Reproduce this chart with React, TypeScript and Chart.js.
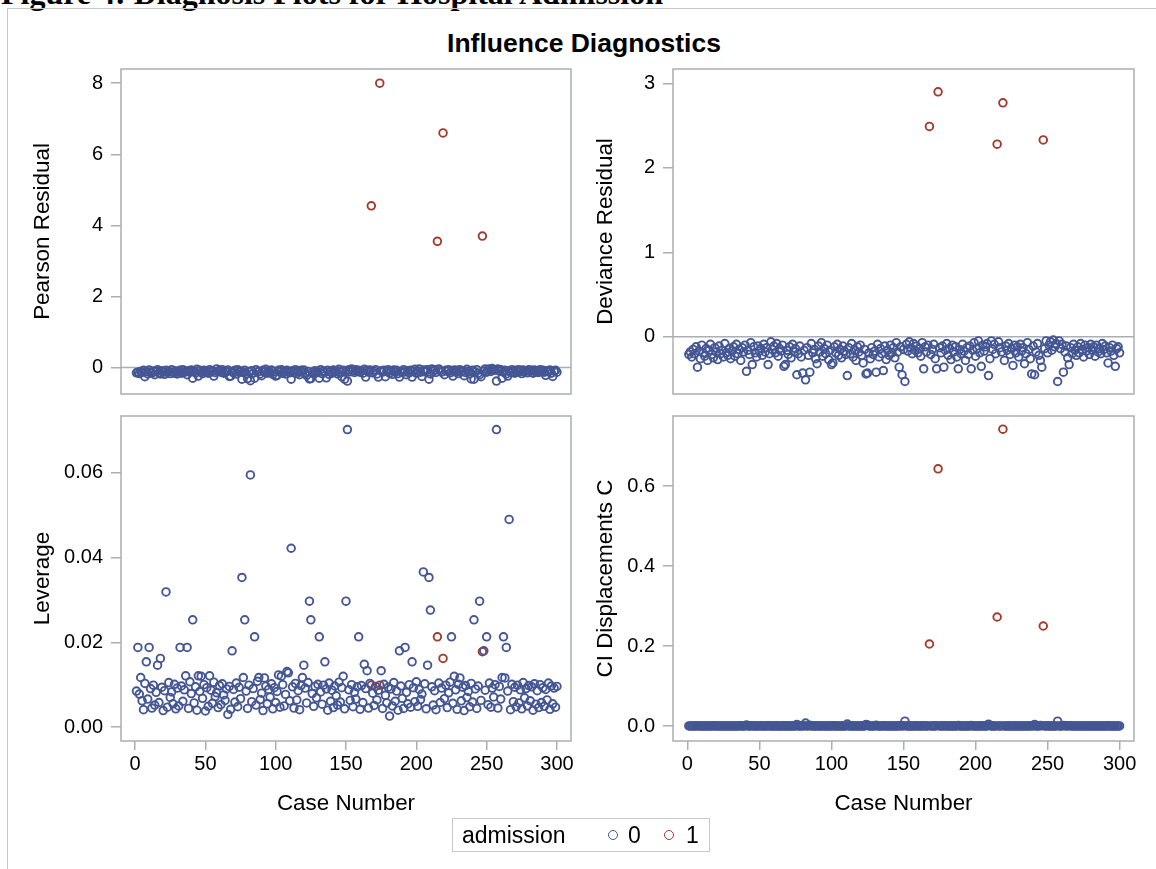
import React, { useEffect, useRef } from 'react';
import { Chart, registerables } from 'chart.js';

Chart.register(...registerables);

// ---------------- data (case numbers 1..300) ----------------
const admittedCases = [168, 174, 215, 219, 247]; // admission = 1

const pearsonResidual = [
  -0.15, -0.13, -0.17, -0.11, -0.14, -0.08, -0.26, -0.12, -0.18, -0.07,
  -0.13, -0.16, -0.10, -0.20, -0.11, -0.06, -0.15, -0.18, -0.09, -0.13,
  -0.19, -0.08, -0.14, -0.11, -0.17, -0.06, -0.13, -0.16, -0.10, -0.18,
  -0.12, -0.08, -0.16, -0.06, -0.14, -0.11, -0.20, -0.09, -0.13, -0.07,
  -0.30, -0.11, -0.15, -0.05, -0.24, -0.08, -0.13, -0.17, -0.08, -0.12,
  -0.10, -0.16, -0.06, -0.13, -0.09, -0.24, -0.14, -0.04, -0.11, -0.08,
  -0.13, -0.06, -0.16, -0.10, -0.12, -0.07, -0.25, -0.24, -0.11, -0.15,
  -0.08, -0.18, -0.06, -0.13, -0.10, -0.33, -0.14, -0.08, -0.17, -0.31,
  -0.11, -0.37, -0.09, -0.16, -0.30, -0.06, -0.13, -0.11, -0.18, -0.23,
  -0.08, -0.13, -0.05, -0.16, -0.10, -0.14, -0.07, -0.19, -0.11, -0.24,
  -0.22, -0.08, -0.13, -0.06, -0.16, -0.11, -0.18, -0.08, -0.12, -0.15,
  -0.33, -0.09, -0.14, -0.06, -0.17, -0.11, -0.20, -0.08, -0.13, -0.07,
  -0.16, -0.22, -0.11, -0.32, -0.31, -0.13, -0.18, -0.09, -0.15, -0.12,
  -0.30, -0.06, -0.17, -0.10, -0.14, -0.29, -0.08, -0.19, -0.11, -0.16,
  -0.07, -0.13, -0.09, -0.18, -0.05, -0.13, -0.26, -0.08, -0.33, -0.11,
  -0.38, -0.06, -0.12, -0.04, -0.09, -0.14, -0.06, -0.11, -0.08, -0.13,
  -0.10, -0.16, -0.05, -0.27, -0.08, -0.13, -0.07, 4.55, -0.15, -0.11,
  -0.06, -0.18, -0.27, 8.00, -0.09, -0.13, -0.08, -0.26, -0.11, -0.06,
  -0.16, -0.10, -0.19, -0.07, -0.13, -0.08, -0.17, -0.27, -0.11, -0.14,
  -0.06, -0.12, -0.20, -0.09, -0.15, -0.08, -0.27, -0.11, -0.05, -0.16,
  -0.10, -0.04, -0.13, -0.25, -0.07, -0.12, -0.08, -0.06, -0.33, -0.18,
  -0.04, -0.11, -0.06, -0.14, 3.55, -0.04, -0.09, -0.13, 6.60, -0.20,
  -0.08, -0.11, -0.06, -0.15, -0.10, -0.24, -0.07, -0.13, -0.08, -0.17,
  -0.06, -0.12, -0.09, -0.23, -0.14, -0.05, -0.11, -0.18, -0.32, -0.08,
  -0.33, -0.13, -0.06, -0.16, -0.20, -0.26, 3.70, -0.10, -0.04, -0.13,
  -0.07, -0.04, -0.11, -0.03, -0.08, -0.06, -0.38, -0.04, -0.10, -0.06,
  -0.30, -0.13, -0.08, -0.18, -0.24, -0.09, -0.14, -0.06, -0.11, -0.16,
  -0.08, -0.13, -0.06, -0.11, -0.17, -0.07, -0.12, -0.09, -0.15, -0.06,
  -0.11, -0.08, -0.16, -0.07, -0.13, -0.10, -0.14, -0.06, -0.11, -0.08,
  -0.13, -0.22, -0.09, -0.12, -0.07, -0.16, -0.25, -0.10, -0.08, -0.13,
];

const devianceResidual = [
  -0.21, -0.18, -0.24, -0.15, -0.20, -0.12, -0.36, -0.17, -0.26, -0.10,
  -0.19, -0.23, -0.14, -0.28, -0.16, -0.09, -0.21, -0.25, -0.13, -0.18,
  -0.27, -0.11, -0.20, -0.16, -0.24, -0.08, -0.19, -0.22, -0.14, -0.26,
  -0.17, -0.12, -0.23, -0.09, -0.20, -0.15, -0.28, -0.13, -0.18, -0.10,
  -0.41, -0.16, -0.21, -0.07, -0.33, -0.12, -0.19, -0.24, -0.11, -0.17,
  -0.14, -0.22, -0.09, -0.18, -0.13, -0.33, -0.20, -0.06, -0.15, -0.11,
  -0.19, -0.08, -0.23, -0.14, -0.17, -0.10, -0.35, -0.33, -0.16, -0.21,
  -0.12, -0.25, -0.09, -0.18, -0.14, -0.45, -0.20, -0.11, -0.24, -0.43,
  -0.16, -0.51, -0.13, -0.22, -0.42, -0.08, -0.19, -0.15, -0.26, -0.32,
  -0.11, -0.18, -0.07, -0.23, -0.14, -0.20, -0.10, -0.27, -0.16, -0.33,
  -0.31, -0.12, -0.19, -0.09, -0.22, -0.15, -0.25, -0.11, -0.17, -0.21,
  -0.46, -0.13, -0.20, -0.08, -0.24, -0.16, -0.28, -0.12, -0.18, -0.10,
  -0.22, -0.31, -0.15, -0.44, -0.43, -0.19, -0.26, -0.13, -0.21, -0.17,
  -0.42, -0.09, -0.24, -0.14, -0.20, -0.40, -0.11, -0.27, -0.16, -0.22,
  -0.10, -0.19, -0.13, -0.25, -0.07, -0.18, -0.36, -0.12, -0.45, -0.15,
  -0.53, -0.09, -0.17, -0.06, -0.13, -0.20, -0.08, -0.16, -0.11, -0.19,
  -0.14, -0.23, -0.07, -0.38, -0.12, -0.18, -0.10, 2.49, -0.21, -0.15,
  -0.09, -0.26, -0.38, 2.90, -0.13, -0.19, -0.11, -0.36, -0.16, -0.08,
  -0.22, -0.14, -0.27, -0.10, -0.18, -0.12, -0.24, -0.38, -0.15, -0.20,
  -0.09, -0.17, -0.28, -0.13, -0.21, -0.11, -0.38, -0.16, -0.07, -0.23,
  -0.14, -0.05, -0.19, -0.35, -0.10, -0.17, -0.12, -0.08, -0.46, -0.26,
  -0.05, -0.15, -0.09, -0.20, 2.28, -0.06, -0.13, -0.18, 2.77, -0.28,
  -0.11, -0.16, -0.08, -0.21, -0.14, -0.34, -0.10, -0.19, -0.12, -0.24,
  -0.09, -0.17, -0.13, -0.32, -0.20, -0.07, -0.15, -0.26, -0.44, -0.11,
  -0.45, -0.18, -0.08, -0.22, -0.28, -0.36, 2.33, -0.14, -0.05, -0.19,
  -0.10, -0.06, -0.16, -0.04, -0.12, -0.08, -0.53, -0.05, -0.14, -0.09,
  -0.42, -0.18, -0.11, -0.25, -0.33, -0.13, -0.20, -0.09, -0.16, -0.22,
  -0.12, -0.19, -0.08, -0.15, -0.24, -0.10, -0.17, -0.13, -0.21, -0.09,
  -0.16, -0.12, -0.23, -0.10, -0.18, -0.14, -0.20, -0.08, -0.15, -0.11,
  -0.19, -0.31, -0.13, -0.17, -0.10, -0.22, -0.35, -0.14, -0.12, -0.19,
];

const leverage = [
  0.0085, 0.0188, 0.0078, 0.0117, 0.0062, 0.0041, 0.0103, 0.0154, 0.0066, 0.0188,
  0.0091, 0.0045, 0.0099, 0.0052, 0.0082, 0.0146, 0.0058, 0.0162, 0.0094, 0.0039,
  0.0086, 0.0319, 0.0047, 0.0105, 0.0070, 0.0083, 0.0055, 0.0101, 0.0043, 0.0092,
  0.0050, 0.0188, 0.0097, 0.0061, 0.0088, 0.0121, 0.0188, 0.0044, 0.0107, 0.0079,
  0.0253, 0.0057, 0.0095, 0.0040, 0.0121, 0.0084, 0.0120, 0.0068, 0.0100, 0.0038,
  0.0093, 0.0049, 0.0121, 0.0087, 0.0056, 0.0106, 0.0072, 0.0081, 0.0046, 0.0098,
  0.0053, 0.0102, 0.0076, 0.0063, 0.0090, 0.0030, 0.0096, 0.0042, 0.0180, 0.0089,
  0.0059, 0.0104, 0.0048, 0.0094, 0.0067, 0.0353, 0.0117, 0.0253, 0.0085, 0.0044,
  0.0099, 0.0595, 0.0060, 0.0091, 0.0213, 0.0052, 0.0108, 0.0117, 0.0065, 0.0080,
  0.0039, 0.0116, 0.0097, 0.0055, 0.0089, 0.0071, 0.0102, 0.0043, 0.0093, 0.0058,
  0.0084, 0.0123, 0.0047, 0.0120, 0.0100, 0.0050, 0.0077, 0.0131, 0.0128, 0.0062,
  0.0422, 0.0095, 0.0045, 0.0103, 0.0064, 0.0086, 0.0041, 0.0098, 0.0117, 0.0146,
  0.0092, 0.0057, 0.0105, 0.0297, 0.0253, 0.0079, 0.0049, 0.0096, 0.0069, 0.0101,
  0.0213, 0.0083, 0.0054, 0.0099, 0.0154, 0.0090, 0.0040, 0.0104, 0.0061, 0.0087,
  0.0046, 0.0097, 0.0074, 0.0052, 0.0106, 0.0059, 0.0093, 0.0120, 0.0043, 0.0297,
  0.0702, 0.0088, 0.0063, 0.0100, 0.0048, 0.0082, 0.0066, 0.0095, 0.0213, 0.0042,
  0.0098, 0.0058, 0.0148, 0.0091, 0.0133, 0.0045, 0.0103, 0.0099, 0.0080, 0.0051,
  0.0096, 0.0064, 0.0087, 0.0099, 0.0133, 0.0044, 0.0101, 0.0075, 0.0057, 0.0094,
  0.0026, 0.0090, 0.0050, 0.0105, 0.0061, 0.0085, 0.0040, 0.0180, 0.0097, 0.0068,
  0.0044, 0.0188, 0.0082, 0.0055, 0.0100, 0.0047, 0.0154, 0.0093, 0.0060, 0.0107,
  0.0049, 0.0089, 0.0065, 0.0078, 0.0366, 0.0102, 0.0043, 0.0146, 0.0353, 0.0276,
  0.0095, 0.0052, 0.0086, 0.0041, 0.0213, 0.0104, 0.0058, 0.0092, 0.0162, 0.0067,
  0.0099, 0.0046, 0.0081, 0.0106, 0.0213, 0.0056, 0.0120, 0.0088, 0.0042, 0.0101,
  0.0116, 0.0062, 0.0094, 0.0039, 0.0098, 0.0070, 0.0084, 0.0048, 0.0103, 0.0059,
  0.0253, 0.0090, 0.0044, 0.0097, 0.0297, 0.0063, 0.0178, 0.0180, 0.0087, 0.0213,
  0.0053, 0.0104, 0.0047, 0.0092, 0.0071, 0.0100, 0.0702, 0.0045, 0.0096, 0.0066,
  0.0117, 0.0213, 0.0116, 0.0188, 0.0085, 0.0490, 0.0041, 0.0101, 0.0060, 0.0094,
  0.0048, 0.0099, 0.0057, 0.0088, 0.0043, 0.0105, 0.0069, 0.0091, 0.0050, 0.0098,
  0.0062, 0.0095, 0.0040, 0.0102, 0.0054, 0.0086, 0.0046, 0.0100, 0.0058, 0.0093,
  0.0049, 0.0089, 0.0064, 0.0104, 0.0042, 0.0097, 0.0055, 0.0092, 0.0047, 0.0096,
];

const ciDisplacement = [
  0.0002, 0.0003, 0.0003, 0.0001, 0.0001, 0.0000, 0.0006, 0.0002, 0.0002, 0.0001,
  0.0001, 0.0001, 0.0001, 0.0002, 0.0001, 0.0001, 0.0001, 0.0005, 0.0001, 0.0001,
  0.0003, 0.0002, 0.0001, 0.0001, 0.0001, 0.0000, 0.0001, 0.0003, 0.0001, 0.0003,
  0.0001, 0.0001, 0.0002, 0.0000, 0.0002, 0.0001, 0.0008, 0.0000, 0.0002, 0.0000,
  0.0023, 0.0001, 0.0002, 0.0000, 0.0007, 0.0001, 0.0002, 0.0002, 0.0001, 0.0001,
  0.0001, 0.0001, 0.0000, 0.0002, 0.0000, 0.0006, 0.0001, 0.0000, 0.0001, 0.0001,
  0.0001, 0.0000, 0.0002, 0.0001, 0.0001, 0.0000, 0.0005, 0.0003, 0.0002, 0.0002,
  0.0000, 0.0003, 0.0000, 0.0002, 0.0001, 0.0040, 0.0002, 0.0002, 0.0003, 0.0005,
  0.0001, 0.0075, 0.0000, 0.0002, 0.0019, 0.0000, 0.0002, 0.0001, 0.0002, 0.0005,
  0.0000, 0.0002, 0.0000, 0.0001, 0.0001, 0.0001, 0.0000, 0.0002, 0.0001, 0.0003,
  0.0004, 0.0001, 0.0001, 0.0000, 0.0002, 0.0001, 0.0003, 0.0001, 0.0002, 0.0001,
  0.0050, 0.0001, 0.0001, 0.0000, 0.0002, 0.0001, 0.0002, 0.0001, 0.0002, 0.0001,
  0.0002, 0.0003, 0.0001, 0.0040, 0.0025, 0.0001, 0.0002, 0.0000, 0.0001, 0.0001,
  0.0019, 0.0000, 0.0001, 0.0001, 0.0003, 0.0007, 0.0000, 0.0003, 0.0001, 0.0002,
  0.0000, 0.0002, 0.0001, 0.0002, 0.0000, 0.0001, 0.0006, 0.0001, 0.0005, 0.0004,
  0.0120, 0.0000, 0.0001, 0.0000, 0.0000, 0.0002, 0.0000, 0.0001, 0.0004, 0.0001,
  0.0001, 0.0001, 0.0000, 0.0007, 0.0001, 0.0001, 0.0000, 0.2050, 0.0002, 0.0001,
  0.0000, 0.0002, 0.0007, 0.6430, 0.0001, 0.0001, 0.0001, 0.0006, 0.0001, 0.0000,
  0.0001, 0.0001, 0.0002, 0.0000, 0.0002, 0.0001, 0.0001, 0.0013, 0.0001, 0.0001,
  0.0000, 0.0003, 0.0003, 0.0000, 0.0002, 0.0000, 0.0011, 0.0001, 0.0000, 0.0003,
  0.0000, 0.0000, 0.0001, 0.0005, 0.0002, 0.0001, 0.0001, 0.0001, 0.0045, 0.0009,
  0.0000, 0.0001, 0.0000, 0.0001, 0.2725, 0.0000, 0.0000, 0.0001, 0.7420, 0.0002,
  0.0001, 0.0001, 0.0000, 0.0002, 0.0002, 0.0003, 0.0001, 0.0001, 0.0000, 0.0003,
  0.0000, 0.0001, 0.0001, 0.0002, 0.0002, 0.0000, 0.0001, 0.0002, 0.0009, 0.0000,
  0.0040, 0.0002, 0.0000, 0.0002, 0.0012, 0.0004, 0.2500, 0.0001, 0.0000, 0.0004,
  0.0000, 0.0000, 0.0001, 0.0000, 0.0000, 0.0000, 0.0120, 0.0000, 0.0001, 0.0000,
  0.0011, 0.0004, 0.0001, 0.0006, 0.0005, 0.0004, 0.0001, 0.0000, 0.0001, 0.0002,
  0.0000, 0.0002, 0.0000, 0.0001, 0.0001, 0.0000, 0.0001, 0.0001, 0.0001, 0.0000,
  0.0001, 0.0001, 0.0001, 0.0000, 0.0001, 0.0001, 0.0001, 0.0000, 0.0001, 0.0001,
  0.0001, 0.0004, 0.0000, 0.0001, 0.0000, 0.0002, 0.0003, 0.0001, 0.0000, 0.0002,
];

const caseTicks = [0, 50, 100, 150, 200, 250, 300];
const pearsonTicks = [0, 2, 4, 6, 8];
const devianceTicks = [0, 1, 2, 3];
const leverageTicks = [0, 0.02, 0.04, 0.06];
const ciTicks = [0, 0.2, 0.4, 0.6];

const legendLabels = ['0', '1'];

// ---------------- styling ----------------
const BLUE = '#445694';
const RED = '#A23A2E';
const FRAME = '#A9AFB3';
const SANS = '"Liberation Sans", Arial, Helvetica, sans-serif';
const TICK_FONT = 20;
const TITLE_FONT = 22.4;

function splitGroups(values: number[]) {
  const g0: { x: number; y: number }[] = [];
  const g1: { x: number; y: number }[] = [];
  values.forEach((v, i) => {
    const c = i + 1;
    if (admittedCases.includes(c)) g1.push({ x: c, y: v });
    else g0.push({ x: c, y: v });
  });
  return { g0, g1 };
}

const framePlugin = {
  id: 'sasFrame',
  beforeDatasetsDraw(chart: any, _args: any, opts: any) {
    const { ctx, chartArea } = chart;
    const { left, top, right, bottom } = chartArea;
    ctx.save();
    ctx.strokeStyle = FRAME;
    ctx.lineWidth = 1.5;
    if (opts && opts.refLine) {
      const y = chart.scales.y.getPixelForValue(0);
      ctx.beginPath();
      ctx.moveTo(left, y);
      ctx.lineTo(right, y);
      ctx.stroke();
    }
    ctx.strokeRect(left, top, right - left, bottom - top);
    ctx.restore();
  },
};

type PanelDef = {
  left: number;
  top: number;
  width: number;
  height: number;
  frameLeft: number;
  frameTop: number;
  frameRight: number;
  frameBottom: number;
  yMin: number;
  yMax: number;
  yTicks: number[];
  decimals: number;
  yTitle: string;
  yTitleCenter: number;
  showX: boolean;
  refLine: boolean;
  values: number[];
};

const panels: PanelDef[] = [
  {
    left: 0, top: 40, width: 580, height: 380,
    frameLeft: 121, frameTop: 69, frameRight: 571, frameBottom: 394,
    yMin: -0.745, yMax: 8.4, yTicks: pearsonTicks, decimals: 0,
    yTitle: 'Pearson Residual', yTitleCenter: 43, showX: false, refLine: true,
    values: pearsonResidual,
  },
  {
    left: 580, top: 40, width: 576, height: 380,
    frameLeft: 673, frameTop: 69, frameRight: 1134, frameBottom: 394,
    yMin: -0.678, yMax: 3.17, yTicks: devianceTicks, decimals: 0,
    yTitle: 'Deviance Residual', yTitleCenter: 606, showX: false, refLine: true,
    values: devianceResidual,
  },
  {
    left: 0, top: 390, width: 580, height: 440,
    frameLeft: 121, frameTop: 416, frameRight: 571, frameBottom: 741,
    yMin: -0.00328, yMax: 0.0734, yTicks: leverageTicks, decimals: 2,
    yTitle: 'Leverage', yTitleCenter: 43, showX: true, refLine: false,
    values: leverage,
  },
  {
    left: 580, top: 390, width: 576, height: 440,
    frameLeft: 673, frameTop: 416, frameRight: 1134, frameBottom: 741,
    yMin: -0.0375, yMax: 0.775, yTicks: ciTicks, decimals: 1,
    yTitle: 'CI Displacements C', yTitleCenter: 606, showX: true, refLine: false,
    values: ciDisplacement,
  },
];

function buildChart(canvas: HTMLCanvasElement, p: PanelDef) {
  const { g0, g1 } = splitGroups(p.values);
  const yAxisWidth = p.frameLeft - p.left;
  const padTop = p.frameTop - p.top;
  const padRight = p.left + p.width - p.frameRight;
  const bottomSpace = p.top + p.height - p.frameBottom;
  const titleLine = TITLE_FONT * 1.2;
  const caseTitleCenter = 804;

  const pointStyle = (color: string) => ({
    pointStyle: 'circle' as const,
    pointRadius: 3.8,
    pointHoverRadius: 3.8,
    pointBorderWidth: 1.9,
    pointBorderColor: color,
    pointBackgroundColor: 'rgba(0,0,0,0)',
    borderColor: color,
    backgroundColor: 'rgba(0,0,0,0)',
    showLine: false,
  });

  return new Chart(canvas, {
    type: 'scatter',
    data: {
      datasets: [
        { label: legendLabels[0], data: g0, ...pointStyle(BLUE) },
        { label: legendLabels[1], data: g1, ...pointStyle(RED) },
      ],
    },
    options: {
      responsive: false,
      maintainAspectRatio: false,
      animation: false,
      devicePixelRatio: 1,
      events: [],
      layout: {
        autoPadding: false,
        padding: { left: 0, top: padTop, right: padRight, bottom: p.showX ? 0 : bottomSpace },
      },
      plugins: {
        legend: { display: false },
        tooltip: { enabled: false },
        title: { display: false },
        sasFrame: { refLine: p.refLine },
      } as any,
      scales: {
        x: {
          type: 'linear',
          min: -10,
          max: 310,
          display: p.showX,
          afterBuildTicks: (s: any) => {
            s.ticks = caseTicks.map((v) => ({ value: v }));
          },
          afterFit: (s: any) => {
            s.height = p.showX ? bottomSpace : 0;
          },
          ticks: {
            autoSkip: false,
            maxRotation: 0,
            minRotation: 0,
            padding: 2,
            color: '#000',
            font: { family: SANS, size: TICK_FONT },
            callback: (v: any) => String(v),
          },
          grid: { drawOnChartArea: false, drawTicks: true, tickLength: 9, color: FRAME, lineWidth: 1.5 },
          border: { display: false },
          title: {
            display: true,
            text: 'Case Number',
            color: '#000',
            font: { family: SANS, size: TITLE_FONT },
            padding: { top: 0, bottom: p.top + p.height - caseTitleCenter - titleLine / 2 },
          },
        },
        y: {
          type: 'linear',
          min: p.yMin,
          max: p.yMax,
          afterBuildTicks: (s: any) => {
            s.ticks = p.yTicks.map((v) => ({ value: v }));
          },
          afterFit: (s: any) => {
            s.width = yAxisWidth;
          },
          ticks: {
            autoSkip: false,
            padding: 8,
            color: '#000',
            font: { family: SANS, size: TICK_FONT },
            callback: (v: any) => Number(v).toFixed(p.decimals),
          },
          grid: { drawOnChartArea: false, drawTicks: true, tickLength: 10, color: FRAME, lineWidth: 1.5 },
          border: { display: false },
          title: {
            display: true,
            text: p.yTitle,
            color: '#000',
            font: { family: SANS, size: TITLE_FONT },
            padding: { top: p.yTitleCenter - p.left - titleLine / 2, bottom: 0 },
          },
        },
      },
    },
    plugins: [framePlugin],
  });
}

export default function App() {
  const refs = [
    useRef<HTMLCanvasElement>(null),
    useRef<HTMLCanvasElement>(null),
    useRef<HTMLCanvasElement>(null),
    useRef<HTMLCanvasElement>(null),
  ];

  useEffect(() => {
    const charts = panels.map((p, i) => buildChart(refs[i].current as HTMLCanvasElement, p));
    return () => charts.forEach((c) => c.destroy());
  }, []);

  return (
    <div style={{ position: 'absolute', left: 0, top: 0, width: 1156, height: 869, overflow: 'hidden', background: '#fff' }}>
      <div
        style={{
          position: 'absolute', left: 1, top: -23, whiteSpace: 'nowrap',
          fontFamily: '"Liberation Serif", "Times New Roman", serif', fontWeight: 'bold',
          fontSize: 32, lineHeight: '32px', color: '#000',
        }}
      >
        Figure 4: Diagnosis Plots for Hospital Admission
      </div>
      <div
        style={{
          position: 'absolute', left: 7, top: 8, width: 1160, height: 870,
          borderLeft: '1px solid #c8c8c8', borderTop: '1px solid #c8c8c8',
        }}
      />
      <div
        style={{
          position: 'absolute', left: 0, top: 30, width: 1168, textAlign: 'center',
          fontFamily: SANS, fontWeight: 'bold', fontSize: 26.5, lineHeight: '26px', color: '#000',
        }}
      >
        Influence Diagnostics
      </div>
      {panels.map((p, i) => (
        <canvas
          key={i}
          ref={refs[i]}
          width={p.width}
          height={p.height}
          style={{ position: 'absolute', left: p.left, top: p.top, width: p.width, height: p.height }}
        />
      ))}
      <div
        style={{
          position: 'absolute', left: 452, top: 818, width: 258, height: 34, boxSizing: 'border-box',
          border: '1px solid #c8c8c8', fontFamily: SANS, fontSize: 23, lineHeight: '32px', color: '#000',
        }}
      >
        <span style={{ position: 'absolute', left: 9, top: 0 }}>admission</span>
        <span
          style={{
            position: 'absolute', left: 155, top: 11, width: 10, height: 10, borderRadius: '50%',
            border: `1.9px solid ${BLUE}`, boxSizing: 'border-box',
          }}
        />
        <span style={{ position: 'absolute', left: 175, top: 0 }}>{legendLabels[0]}</span>
        <span
          style={{
            position: 'absolute', left: 211, top: 11, width: 10, height: 10, borderRadius: '50%',
            border: `1.9px solid ${RED}`, boxSizing: 'border-box',
          }}
        />
        <span style={{ position: 'absolute', left: 233, top: 0 }}>{legendLabels[1]}</span>
      </div>
    </div>
  );
}
